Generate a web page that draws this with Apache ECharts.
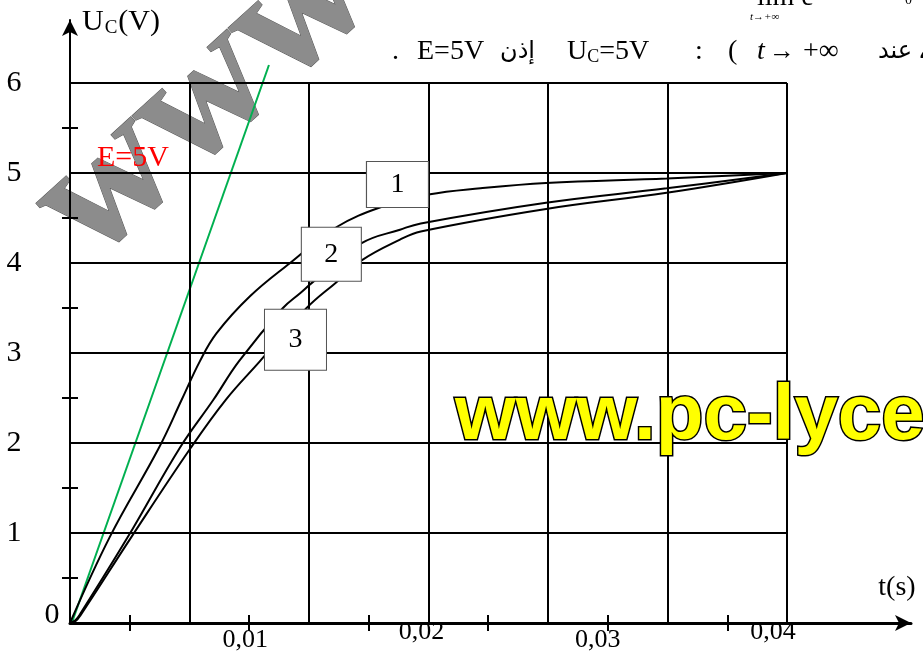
<!DOCTYPE html>
<html>
<head>
<meta charset="utf-8">
<script src="https://cdn.jsdelivr.net/npm/echarts@6/dist/echarts.min.js"></script>
<style>
  html, body { margin: 0; padding: 0; background: #fff; }
  #chart { width: 923px; height: 664px; }
</style>
</head>
<body>
<div id="chart"></div>
<script>
// courbes de charge u_C(t)
var curve1T = [0, 0.00223, 0.00497, 0.00623, 0.00725, 0.00818, 0.01004, 0.01228, 0.01488, 0.01748, 0.02, 0.0229, 0.02656, 0.03329, 0.04];
var curve1U = [0, 0.96, 1.95, 2.48, 2.91, 3.22, 3.63, 4.0, 4.4, 4.63, 4.76, 4.83, 4.89, 4.94, 5];

var curve2T = [0, 0.0003, 0.0006, 0.00324, 0.00614, 0.008, 0.00943, 0.01188, 0.01287, 0.01356, 0.01627, 0.01841, 0.01957, 0.02656, 0.03329, 0.04];
var curve2U = [0, 0.03, 0.11, 0.96, 1.95, 2.48, 2.91, 3.5, 3.67, 3.79, 4.22, 4.37, 4.44, 4.67, 4.83, 5];

var curve3T = [0, 0.0003, 0.0006, 0.00344, 0.00675, 0.00869, 0.0106, 0.0132, 0.01488, 0.01627, 0.01841, 0.01957, 0.02656, 0.03329, 0.04];
var curve3U = [0, 0.02, 0.09, 0.96, 1.95, 2.48, 2.91, 3.5, 3.79, 4.03, 4.26, 4.35, 4.6, 4.78, 5];

// tangente a l'origine et asymptote E = 5 V
var tangentT = [0.0001, 0.0111];
var tangentU = [0, 6.2];
var asymT = [0, 0.04];
var asymU = [5, 5];

// etiquettes 1, 2, 3
var boxT = [0.01827, 0.01458, 0.01258];
var boxU = [4.872, 4.098, 3.148];
var boxText = ['1', '2', '3'];

// quadrillage et graduations
var gridT = [0.00667, 0.01333, 0.02, 0.02667, 0.03333, 0.04];
var gridU = [1, 2, 3, 4, 5, 6];
var xTicks = [0.00333, 0.01, 0.01667, 0.02333, 0.03, 0.03667];
var xLabels = [0.01, 0.02, 0.03, 0.04];
var yTicks = [0.5, 1.5, 2.5, 3.5, 4.5, 5.5];
var yLabels = [1, 2, 3, 4, 5, 6];

function zip(a, b) {
  return a.map(function (v, i) { return [v, b[i]]; });
}

var serif = '"Liberation Serif", "Times New Roman", serif';
var arab = '"DejaVu Sans", "Noto Sans", sans-serif';

var gridLines = gridT.map(function (t) {
  return [{ coord: [t, 0] }, { coord: [t, 6] }];
}).concat(gridU.map(function (u) {
  return [{ coord: [0, u] }, { coord: [0.04, u] }];
}));

var myChart = echarts.init(document.getElementById('chart'));

var boxSizes = [[62, 46], [60, 54], [62, 61]];

function curve(name, t, u) {
  return {
    name: name, type: 'line', data: zip(t, u), z: 5, symbol: 'none',
    smooth: 0.4, lineStyle: { color: '#000', width: 2 }
  };
}

var option = {
  animation: false,
  grid: { left: 70, right: 12, top: 20, bottom: 41 },
  xAxis: [
    {
      type: 'value', position: 'bottom', min: 0, max: 0.04692,
      axisLine: { show: true, lineStyle: { color: '#000', width: 3 }, symbol: ['none', 'arrow'], symbolSize: [12, 16] },
      axisTick: { show: true, customValues: xTicks, length: 8, lineStyle: { color: '#000', width: 2 } },
      axisLabel: {
        customValues: xLabels, margin: -4, color: '#000', fontFamily: serif, fontSize: 26,
        formatter: function (v) {
          var s = String(v).replace('.', ',');
          var k = { '0,01': 'a', '0,02': 'b', '0,03': 'c', '0,04': 'd' }[s] || 'b';
          return '{' + k + '|' + s + '}';
        },
        rich: {
          a: { fontFamily: serif, fontSize: 26, padding: [8, 8, 0, 0] },
          b: { fontFamily: serif, fontSize: 26, padding: [0, 14, 0, 0] },
          c: { fontFamily: serif, fontSize: 26, padding: [8, 20, 0, 0] },
          d: { fontFamily: serif, fontSize: 26, padding: [0, 28, 0, 0] }
        }
      },
      splitLine: { show: false }
    },
    {
      type: 'value', position: 'bottom', min: 0, max: 0.04692,
      axisLine: { show: false },
      axisTick: { show: true, inside: true, customValues: xTicks, length: 8, lineStyle: { color: '#000', width: 2 } },
      axisLabel: { show: false },
      splitLine: { show: false }
    }
  ],
  yAxis: [
    {
      type: 'value', position: 'left', min: 0, max: 6.7,
      axisLine: { show: true, lineStyle: { color: '#000', width: 2 }, symbol: ['none', 'arrow'], symbolSize: [12, 16] },
      axisTick: { show: true, customValues: yTicks, length: 8, lineStyle: { color: '#000', width: 2 } },
      axisLabel: { customValues: yLabels, margin: 56, align: 'center', color: '#000', fontFamily: serif, fontSize: 30 },
      splitLine: { show: false }
    },
    {
      type: 'value', position: 'left', min: 0, max: 6.7,
      axisLine: { show: false },
      axisTick: { show: true, inside: true, customValues: yTicks, length: 8, lineStyle: { color: '#000', width: 2 } },
      axisLabel: { show: false },
      splitLine: { show: false }
    }
  ],
  series: [
    {
      name: 'grille', type: 'line', data: [], z: 2, silent: true,
      markLine: {
        silent: true, symbol: ['none', 'none'], label: { show: false },
        lineStyle: { color: '#000', width: 2, type: 'solid' },
        emphasis: { disabled: true },
        data: gridLines
      }
    },
    {
      name: 'E', type: 'line', data: zip(asymT, asymU), z: 4, symbol: 'none',
      lineStyle: { color: '#ff0000', width: 2 }
    },
    {
      name: 'tangente', type: 'line', data: zip(tangentT, tangentU), z: 4, symbol: 'none',
      lineStyle: { color: '#00b050', width: 2 }
    },
    curve('1', curve1T, curve1U),
    curve('2', curve2T, curve2U),
    curve('3', curve3T, curve3U),
    {
      name: 'etiquettes', type: 'scatter', z: 10, silent: true,
      data: boxT.map(function (t, i) {
        return {
          value: [t, boxU[i]],
          symbol: 'rect',
          symbolSize: boxSizes[i],
          itemStyle: { color: '#fff', opacity: 1, borderColor: '#555', borderWidth: 1 },
          label: { show: true, position: 'inside', formatter: boxText[i], color: '#000', fontFamily: serif, fontSize: 28, padding: [6, 0, 0, 0] }
        };
      })
    }
  ],
  graphic: [
    {
      type: 'text', x: 204, y: 99, rotation: 0.74, z: 0, silent: true,
      style: { text: 'www', font: 'bold 180px ' + serif, fill: '#8c8c8c', stroke: '#555', lineWidth: 1, align: 'center', verticalAlign: 'middle' }
    },
    {
      type: 'text', x: 455, y: 378, z: 100, silent: true,
      style: {
        text: 'www.pc-lycee', font: 'bold 78px "Liberation Sans", Arial, sans-serif',
        fill: '#ffff00', stroke: '#000', lineWidth: 3,
        shadowColor: '#999', shadowOffsetX: 5, shadowOffsetY: 5, shadowBlur: 0,
        verticalAlign: 'top'
      }
    },
    {
      type: 'text', x: 82, y: 22, z: 100,
      style: {
        text: '{n|U}{s|C}{n|(V)}', verticalAlign: 'middle',
        rich: { n: { font: '30px ' + serif, fill: '#000' }, s: { font: '19px ' + serif, fill: '#000', padding: [12, 1, 0, 1] } }
      }
    },
    { type: 'text', x: 97, y: 158, z: 100, style: { text: 'E=5V', font: '30px ' + serif, fill: '#ff0000', verticalAlign: 'middle' } },
    { type: 'text', x: 52, y: 615, z: 100, style: { text: '0', font: '30px ' + serif, fill: '#000', align: 'center', verticalAlign: 'middle' } },
    { type: 'text', x: 897, y: 588, z: 100, style: { text: 't(s)', font: '28px ' + serif, fill: '#000', align: 'center', verticalAlign: 'middle' } },
    // ligne de texte en haut
    { type: 'text', x: 392, y: 52, z: 100, style: { text: '.', font: '28px ' + serif, fill: '#000', verticalAlign: 'middle' } },
    { type: 'text', x: 417, y: 52, z: 100, style: { text: 'E=5V', font: '28px ' + serif, fill: '#000', verticalAlign: 'middle' } },
    { type: 'text', x: 500, y: 52, z: 100, style: { text: 'إذن', font: '24px ' + arab, fill: '#000', verticalAlign: 'middle' } },
    {
      type: 'text', x: 567, y: 52, z: 100,
      style: {
        text: '{n|U}{s|C}{n|=5V}', verticalAlign: 'middle',
        rich: { n: { font: '28px ' + serif, fill: '#000' }, s: { font: '18px ' + serif, fill: '#000', padding: [10, 0, 0, 0] } }
      }
    },
    { type: 'text', x: 695, y: 52, z: 100, style: { text: ':', font: '28px ' + serif, fill: '#000', verticalAlign: 'middle' } },
    { type: 'text', x: 728, y: 52, z: 100, style: { text: '(', font: '28px ' + serif, fill: '#000', verticalAlign: 'middle' } },
    { type: 'text', x: 757, y: 52, z: 100, style: { text: 't', font: 'italic 28px ' + serif, fill: '#000', verticalAlign: 'middle' } },
    { type: 'text', x: 769, y: 52, z: 100, style: { text: '→', font: '26px ' + serif, fill: '#000', verticalAlign: 'middle' } },
    { type: 'text', x: 803, y: 52, z: 100, style: { text: '+∞', font: '28px ' + serif, fill: '#000', verticalAlign: 'middle' } },
    { type: 'text', x: 878, y: 52, z: 100, style: { text: 'عند', font: '24px ' + arab, fill: '#000', verticalAlign: 'middle' } },
    { type: 'text', x: 918, y: 52, z: 100, style: { text: '،', font: '24px ' + arab, fill: '#000', verticalAlign: 'middle' } },
    { type: 'text', x: 757, y: -2, z: 100, style: { text: 'lim e', font: '28px ' + serif, fill: '#000', verticalAlign: 'middle' } },
    { type: 'text', x: 750, y: 17, z: 100, style: { text: 't→+∞', font: 'italic 11px ' + serif, fill: '#000', verticalAlign: 'middle' } },
    { type: 'text', x: 905, y: 0, z: 100, style: { text: '0', font: '14px ' + serif, fill: '#000', verticalAlign: 'middle' } }
  ]
};

myChart.setOption(option);
</script>
</body>
</html>
